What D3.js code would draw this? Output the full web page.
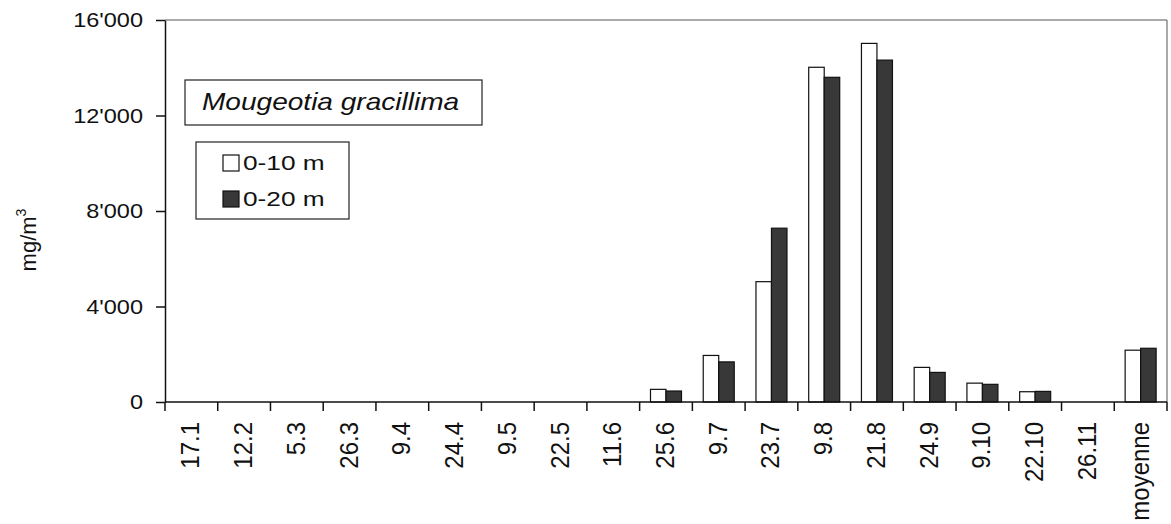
<!DOCTYPE html>
<html>
<head>
<meta charset="utf-8">
<script src="https://cdn.jsdelivr.net/npm/d3@7"></script>
<style>
  body { margin: 0; background: #fff; }
  svg { font-family: "Liberation Sans", Arial, sans-serif; }
</style>
</head>
<body>
<svg width="1171" height="524"></svg>
<script>
var dates = ["17.1", "12.2", "5.3", "26.3", "9.4", "24.4", "9.5", "22.5", "11.6", "25.6",
             "9.7", "23.7", "9.8", "21.8", "24.9", "9.10", "22.10", "26.11", "moyenne"];
var v0_10 = [0, 0, 0, 0, 0, 0, 0, 0, 0, 530, 1950, 5040, 14020, 15020, 1450, 790, 430, 0, 2170];
var v0_20 = [0, 0, 0, 0, 0, 0, 0, 0, 0, 460, 1680, 7280, 13600, 14320, 1240, 740, 445, 0, 2250];
var series = ["0-10 m", "0-20 m"];
var yTicks = [0, 4000, 8000, 12000, 16000];

var svg = d3.select("svg"),
    margin = {top: 20, right: 4, bottom: 122, left: 165},
    width = +svg.attr("width"),
    height = +svg.attr("height");

var x = d3.scaleBand()
    .domain(dates)
    .range([margin.left, width - margin.right]);

var y = d3.scaleLinear()
    .domain([0, 16000])
    .range([height - margin.bottom, margin.top]);

var fmt = function(d) { return d3.format(",")(d).replace(",", "'"); };
var fills = ["#fff", "#383838"];
var barW = 15.5;

// frame (top + right)
svg.append("path")
    .attr("fill", "none")
    .attr("stroke", "#555")
    .attr("stroke-width", 1)
    .attr("d", "M" + margin.left + "," + y(16000) + "H" + x.range()[1] + "V" + y(0));

// bars
var data = dates.map(function(d, i) { return {date: d, vals: [v0_10[i], v0_20[i]]}; });
var groups = svg.append("g").selectAll("g")
    .data(data)
  .enter().append("g");

groups.selectAll("rect")
    .data(function(d) { return d.vals.map(function(v, k) { return {date: d.date, v: v, k: k}; }); })
  .enter().filter(function(d) { return d.v > 0; }).append("rect")
    .attr("x", function(d) { return x(d.date) + x.bandwidth() / 2 - barW + d.k * barW; })
    .attr("y", function(d) { return y(d.v); })
    .attr("width", barW)
    .attr("height", function(d) { return y(0) - y(d.v); })
    .attr("fill", function(d) { return fills[d.k]; })
    .attr("stroke", "#111")
    .attr("stroke-width", 1.2);

// y axis (the scanned figure is a bit stretched sideways, hence the scale on text)
svg.append("g")
    .attr("transform", "translate(" + margin.left + ",0)")
    .call(d3.axisLeft(y).tickValues(yTicks).tickFormat(fmt).tickSize(9).tickSizeOuter(0))
    .call(function(g) {
      g.selectAll("text")
          .attr("x", null)
          .attr("transform", "translate(-22,0) scale(1.12,1)")
          .style("font-size", "21px")
          .style("font-family", "'Liberation Sans', Arial, sans-serif")
          .attr("fill", "#111");
      g.selectAll("line, path").attr("stroke", "#111").attr("stroke-width", 1.5);
    });

// x axis: labels centered, ticks at band edges
var xAxis = svg.append("g")
    .attr("transform", "translate(0," + y(0) + ")");
xAxis.append("line")
    .attr("x1", margin.left).attr("x2", x.range()[1])
    .attr("stroke", "#111").attr("stroke-width", 1.5);
xAxis.selectAll(".tk")
    .data(dates.map(function(d) { return x(d); }).concat([x.range()[1]]))
  .enter().append("line")
    .attr("x1", function(d) { return d; }).attr("x2", function(d) { return d; })
    .attr("y1", 0).attr("y2", 9)
    .attr("stroke", "#111").attr("stroke-width", 1.5);
xAxis.selectAll("text")
    .data(dates)
  .enter().append("text")
    .attr("transform", function(d) {
      return "translate(" + (x(d) + x.bandwidth() / 2 + 8) + ",20) scale(1.08,1) rotate(-90)";
    })
    .attr("text-anchor", "end")
    .style("font-size", "24px")
    .attr("fill", "#111")
    .text(function(d) { return d; });

// y label
var yl = svg.append("text")
    .attr("transform", "translate(36,240) rotate(-90)")
    .attr("text-anchor", "middle")
    .style("font-size", "22px")
    .attr("fill", "#111");
yl.append("tspan").text("mg/m");
yl.append("tspan").style("font-size", "14px").attr("dy", -10).text("3");

// species title box
svg.append("rect")
    .attr("x", 185).attr("y", 80).attr("width", 297).attr("height", 45)
    .attr("fill", "#fff").attr("stroke", "#222").attr("stroke-width", 1.2);
svg.append("text")
    .attr("transform", "translate(202,110) scale(1.22,1)")
    .style("font-size", "23px")
    .attr("font-style", "italic")
    .attr("fill", "#111")
    .text("Mougeotia gracillima");

// legend
var lg = svg.append("g");
lg.append("rect")
    .attr("x", 196).attr("y", 142).attr("width", 153).attr("height", 77)
    .attr("fill", "#fff").attr("stroke", "#222").attr("stroke-width", 1.2);
var items = lg.selectAll("g.item")
    .data(series)
  .enter().append("g")
    .attr("transform", function(d, i) { return "translate(223," + (155 + i * 36) + ")"; });
items.append("rect")
    .attr("width", 16).attr("height", 16)
    .attr("fill", function(d, i) { return fills[i]; })
    .attr("stroke", "#111").attr("stroke-width", 1.2);
items.append("text")
    .attr("transform", "translate(20,15) scale(1.25,1)")
    .style("font-size", "21px")
    .attr("fill", "#111")
    .text(function(d) { return d; });
</script>
</body>
</html>
